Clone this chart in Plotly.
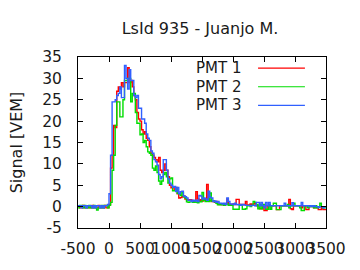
import numpy as np
import plotly.graph_objects as go

# ---- data (25 ns bins starting at -500 ns) ----
bin_start = -500
bin_width = 25

pmt1 = [0.2, -0.3, -0.3, 0.3, -0.3, -0.3, 0.2, -0.3, -0.3, 0.3, -0.3, -0.3, -0.3, 0.3, -0.3, -0.3, -0.3, 0.3, -0.3, -0.3,
        0.5, 9, 12, 19, 18.5, 27, 28, 27.5, 29, 28, 29, 29, 32.5, 29, 29.5, 28, 26, 25, 22, 20.5,
        20, 18, 17, 17.5, 16, 15.5, 14, 12.5, 12, 11.5, 11, 10.5, 11.5, 8.5, 8, 8.5, 10, 8.5, 7, 5,
        4.4, 4.5, 3.8, 4.5, 3, 2, 2.1, 2.3, 2.5, 1.8, 1.6, 1.5,
        1.6, 1.5, 1.2, 1.3, 3.5, 1.8, 1.5, 1.6, 1.3, 1.8, 1.5, 5.2, 1.5, 1.4, 1.2, 1.3, 1.0, 1.2, 0.6, 0.5,
        0.6, 0.4, 0.5, 0.5, 1.8, 0.6, 0.5, 0.4, 0.6, 0.5, 1.7, 1.7, 0.4, 0.5, 0.4, 0.5, 1.2, 0.3, 0.4, 0.6,
        0.4, 0.6, 0.8, 0.2, 0.2, -0.5, -0.5, 0.2, -0.9, -0.9, 0.2, 0.2, 0.2, 0.2, 0.2, 0.2, -0.7, -0.7, 0.2, 0.2,
        0.2, 0.2, 0.2, 0.2, 1.7, -0.5, -0.7, 0.2, 0.2, 0.2, 0.2, 0.2, -0.3, 0.2, 0.2, -0.7, -0.7, 0.2, 0.0, 0.0,
        -0.3, -0.3, 0.0, -0.7, -0.7, 0.0, -0.7, -0.7]

pmt2 = [-0.3, 0.3, 0.3, -0.3, 0.3, -0.3, -0.3, 0.3, -0.3, -0.3, 0.3, -0.3, -0.8, -0.3, -0.3, 0.3, -0.3, 0.3, 0.3, -0.3,
        0.3, 1, 8.5, 12, 19, 24.5, 24.5, 21, 21, 25, 29.5, 29.5, 30, 30, 24.5, 26.5, 26.5, 22, 19.5, 19.5,
        16.8, 17, 15, 15.5, 14, 12.8, 12.5, 12, 9, 8.5, 9.5, 8, 6, 5.2, 6, 7.5, 8, 7, 5.5, 6.5,
        6.7, 3.7, 3.7, 4, 3.1, 3, 2.6, 3.3, 2.3, 2, 1.1, 1,
        1.1, 1.1, 1.0, 1.1, 1.0, 0.9, 1.2, 1.1, 3.3, 1.5, 1.2, 1.3, 1.2, 3.2, 1.3, 1.3, 1.1, 0.8, 0.4, 0.5,
        0.4, 0.6, 0.3, 0.5, 0.6, 0.3, 0.3, 0.3, -0.6, -0.6, -0.6, -0.6, 0.3, 0.3, -0.6, -0.6, -0.5, 0.2, 0.3, 0.0,
        0.3, 1.2, 1.0, 0.5, -0.5, 0.5, -0.5, 0.5, 0.5, -0.6, -0.6, 0.5, -0.6, 0.2, 0.8, 0.8, -0.7, -0.7, -0.7, 0.2,
        0.2, 0.2, 0.2, 0.5, -0.3, 0.2, 0.2, 0.8, 0.2, 0.2, 0.2, -0.3, -0.9, -0.9, 0.2, 0.2, -0.3, 0.0, 0.2, 0.0,
        -0.3, 0.2, -0.3, 0.0, 0.8, 0.0, -0.3, -0.3]

pmt3 = [0.2, 0.2, -0.3, 0.2, 0.2, -0.3, 0.2, 0.2, 0.2, -0.3, 0.2, -0.3, 0.2, 0.2, -0.3, 0.2, -0.3, 0.2, 0.2, 0.5,
        3, 12, 24.5, 24.5, 25, 26, 26.5, 28, 25.5, 25.5, 33, 30, 27.5, 32, 29.5, 29.5, 26, 25.5, 26, 23,
        23, 20.5, 20.5, 19.5, 17, 16, 15.5, 13, 12.5, 11, 10.5, 9.7, 7.5, 6.5, 7, 11, 11, 8.5, 6.5, 5.5,
        5, 4.5, 4.7, 3.5, 4.5, 3, 3.5, 3.6, 2.5, 2.3, 2, 1.5,
        1.5, 1.2, 1.5, 1.3, 1.5, 1.2, 2.6, 2.5, 1.8, 2.0, 1.8, 1.5, 3.6, 2.2, 2.0, 1.2, 1.3, 1.0, 1.2, 0.8,
        0.8, 0.6, 0.8, 0.5, 2.0, 1.2, 0.6, 0.6, 0.5, 0.8, 0.5, 0.4, 0.5, 0.3, 0.5, 0.4, 0.3, 0.3, 0.3, 0.2,
        0.3, 0.3, 0.2, 1.0, 1.0, 0.2, 1.0, 0.2, -0.3, 1.0, 0.2, 1.0, 0.2, 0.2, 0.2, 0.2, 0.2, 0.2, 0.2, 0.2,
        0.2, 0.8, 0.2, 0.2, 0.2, 0.2, 0.9, 0.2, 0.2, 0.2, 0.2, 0.2, 1.0, 0.2, 0.2, 0.2, 0.2, 0.0, 0.2, 0.0,
        0.2, 0.0, 0.0, -0.2, 0.0, 0.0, -0.3, 0.0]

series_names = ["PMT 1", "PMT 2", "PMT 3"]
series_values = [pmt1, pmt2, pmt3]
series_colors = ["#ff0000", "#00dd00", "#3060ff"]

x_ticks = [-500, 0, 500, 1000, 1500, 2000, 2500, 3000, 3500]
y_ticks = [-5, 0, 5, 10, 15, 20, 25, 30, 35]

FONT = "DejaVu Sans"
TXT = "#1a1a1a"

fig = go.Figure()
for name, vals, col in zip(series_names, series_values, series_colors):
    n = len(vals)
    xs = bin_start + bin_width * np.arange(n + 1)
    ys = list(vals) + [vals[-1]]
    fig.add_trace(go.Scatter(x=xs, y=ys, mode="lines", name=name,
                             line=dict(color=col, width=1.4, shape="hv"),
                             showlegend=False))

# manual gnuplot-style legend (text left, sample right)
leg_y = [0.935, 0.826, 0.717]
for name, col, yy in zip(series_names, series_colors, leg_y):
    fig.add_annotation(x=0.665, y=yy, xref="paper", yref="paper", text=name,
                       showarrow=False, xanchor="right", yanchor="middle",
                       font=dict(family=FONT, size=15, color=TXT))
    fig.add_shape(type="line", xref="paper", yref="paper",
                  x0=0.726, x1=0.915, y0=yy, y1=yy,
                  line=dict(color=col, width=1.2))

axis_common = dict(showline=True, linecolor="black", linewidth=1, mirror="ticks",
                   ticks="inside", ticklen=5, tickcolor="black", showgrid=False,
                   zeroline=False, tickfont=dict(family=FONT, size=15.5, color=TXT))

fig.update_layout(
    width=360, height=270,
    margin=dict(l=78, r=34, t=57, b=39, pad=0),
    paper_bgcolor="white", plot_bgcolor="white",
    title=dict(text="LsId 935 - Juanjo M.", x=0.492, xref="paper",
               y=1 - 28 / 270, yref="container", xanchor="center", yanchor="middle",
               font=dict(family=FONT, size=16, color=TXT)),
    xaxis=dict(range=[-500, 3500], tickvals=x_ticks, tickangle=0,
               ticktext=[str(v) for v in x_ticks], ticklabelstandoff=6, **axis_common),
    yaxis=dict(range=[-5, 35], tickvals=y_ticks,
               ticktext=[str(v) for v in y_ticks], ticklabelstandoff=12,
               title=dict(text="Signal [VEM]", font=dict(family=FONT, size=16, color=TXT),
                          standoff=15),
               **axis_common),
)

fig.write_html("out.html")
